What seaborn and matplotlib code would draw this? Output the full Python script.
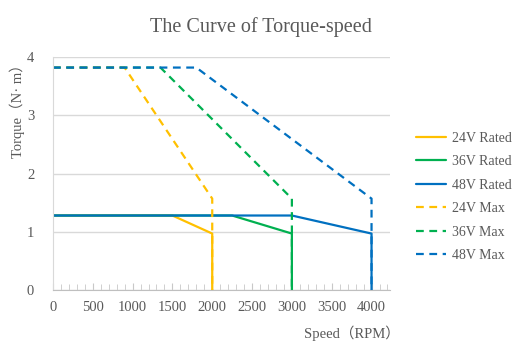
import pandas as pd
import seaborn as sns
import matplotlib.pyplot as plt
from matplotlib.ticker import MultipleLocator

# speed (RPM) / torque (N·m) points for each curve
rated_24_speed = [0, 1500, 2000, 2000]
rated_24_torque = [1.28, 1.28, 0.97, 0]
rated_36_speed = [0, 2250, 3000, 3000]
rated_36_torque = [1.28, 1.28, 0.97, 0]
rated_48_speed = [0, 3000, 4000, 4000]
rated_48_torque = [1.28, 1.28, 0.97, 0]
max_24_speed = [0, 900, 2000, 2000]
max_24_torque = [3.82, 3.82, 1.57, 0]
max_36_speed = [0, 1350, 3000, 3000]
max_36_torque = [3.82, 3.82, 1.57, 0]
max_48_speed = [0, 1800, 4000, 4000]
max_48_torque = [3.82, 3.82, 1.57, 0]

series = [
    ("24V Rated", rated_24_speed, rated_24_torque, "#FFC000", "-"),
    ("36V Rated", rated_36_speed, rated_36_torque, "#00B050", "-"),
    ("48V Rated", rated_48_speed, rated_48_torque, "#0070C0", "-"),
    ("24V Max", max_24_speed, max_24_torque, "#FFC000", "--"),
    ("36V Max", max_36_speed, max_36_torque, "#00B050", "--"),
    ("48V Max", max_48_speed, max_48_torque, "#0070C0", "--"),
]

sns.set_style("white")
plt.rcParams['font.family'] = ['Liberation Serif', 'Noto Sans CJK SC']
text_col = "#595959"

fig = plt.figure(figsize=(5.24, 3.59), dpi=100)
ax = fig.add_axes([0.101, 0.192, 0.643, 0.649])

for name, xs, ys, col, ls in series:
    df = pd.DataFrame({"speed": xs, "torque": ys})
    line = sns.lineplot(data=df, x="speed", y="torque", sort=False, estimator=None,
                        color=col, linewidth=1.6, label=name, ax=ax).lines[-1]
    if ls == "--":
        line.set_dashes((3.5, 2.5))

ax.set_xlim(0, 4230)
ax.set_ylim(0, 4)
ax.set_xticks(range(0, 4001, 500))
ax.xaxis.set_minor_locator(MultipleLocator(100))
ax.set_yticks([0, 1, 2, 3, 4])
ax.grid(axis="y", color="#D9D9D9", linewidth=1)
ax.set_axisbelow(True)
for s in ["top", "right"]:
    ax.spines[s].set_visible(False)
ax.spines["left"].set_color("#D9D9D9")
ax.spines["bottom"].set_color("#BFBFBF")
ax.tick_params(axis="x", which="both", direction="in", bottom=True, colors="#C8C8C8",
               labelcolor=text_col, labelsize=10.5, length=4, pad=8)
ax.tick_params(axis="x", which="major", length=5)
ax.tick_params(axis="y", left=False, labelcolor=text_col, labelsize=10.5, pad=10)

ax.set_xlabel("Speed（RPM）", color=text_col, fontsize=10.5)
ax.xaxis.set_label_coords(0.887, -0.185)
ax.xaxis.label.set_va("center")
ax.set_ylabel("Torque（N· m）", color=text_col, fontsize=10.5)
ax.yaxis.set_label_coords(-0.107, 0.785)
ax.yaxis.label.set_va("center")

fig.text(0.498, 0.925, "The Curve of Torque-speed", ha="center", va="center",
         color=text_col, fontsize=14.5)

ax.legend(loc="center left", bbox_to_anchor=(1.04, 0.40), frameon=False,
          fontsize=10, labelcolor=text_col, handlelength=2.15, handletextpad=0.45,
          labelspacing=0.75)

fig.savefig("out.png", dpi=100)
